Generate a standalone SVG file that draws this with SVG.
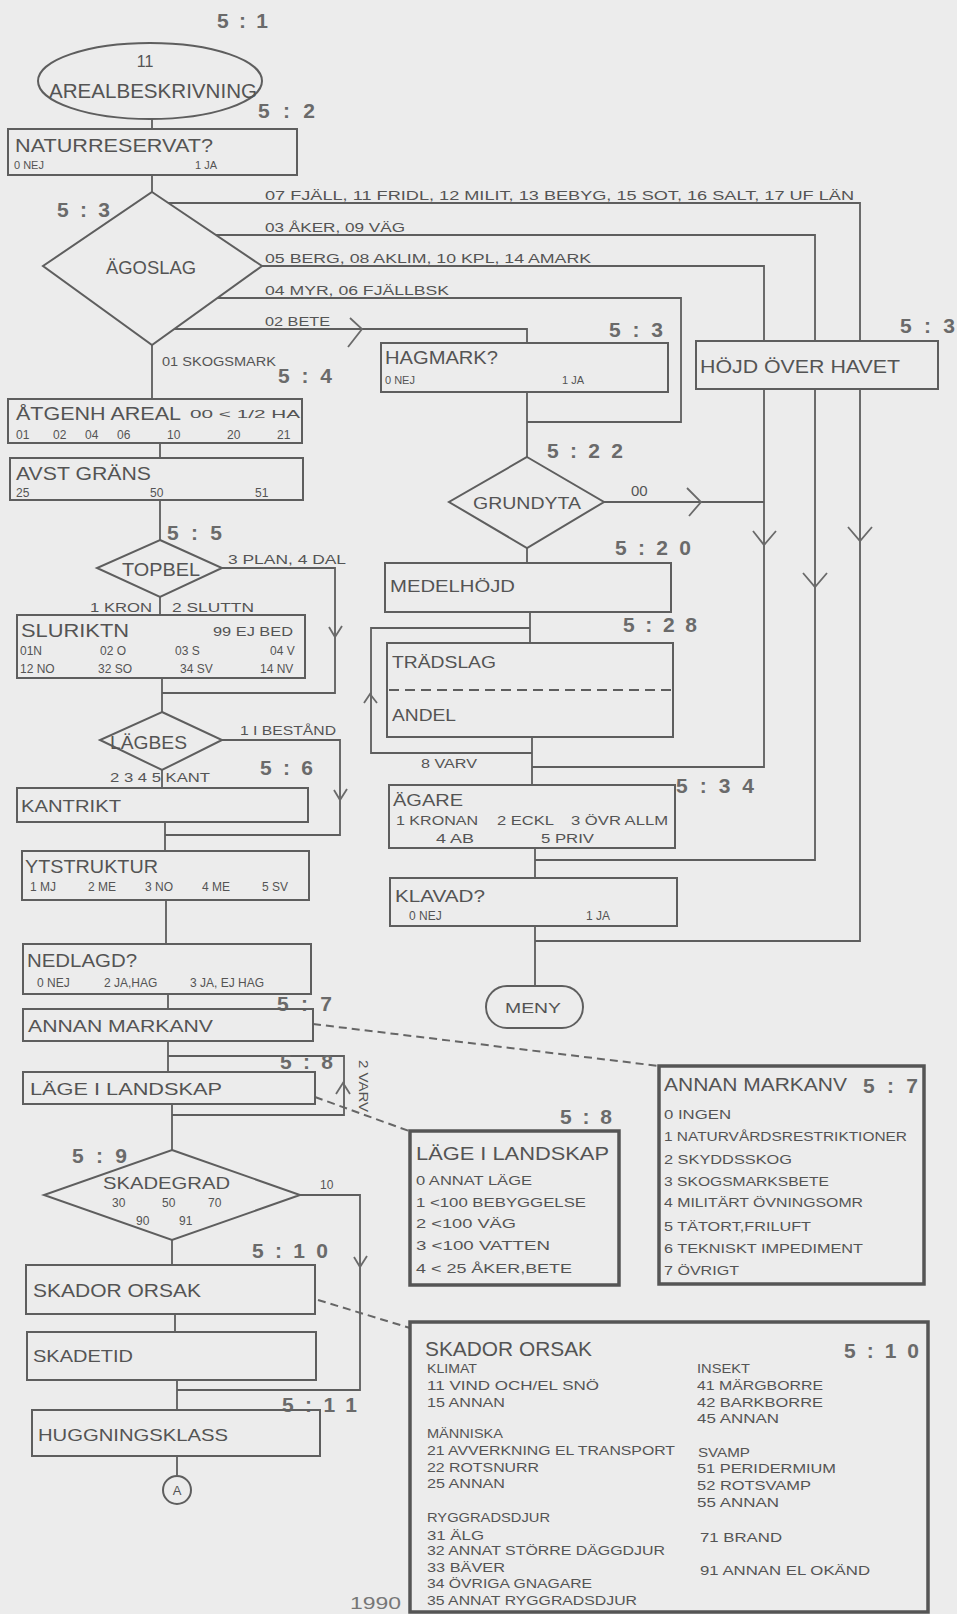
<svg xmlns="http://www.w3.org/2000/svg" width="957" height="1614" viewBox="0 0 957 1614">
<style>
.bx{fill:none;stroke:#5e5e5e;stroke-width:2}
.ln{fill:none;stroke:#5e5e5e;stroke-width:1.8}
.ch{fill:none;stroke:#6a6a6a;stroke-width:1.8}
.ds{fill:none;stroke:#666;stroke-width:2;stroke-dasharray:8 5}
.ib{fill:none;stroke:#555;stroke-width:3.5}
.t{font-family:"Liberation Sans",Arial,sans-serif;fill:#545454}
.h{font-size:19px}
.s{font-size:11px}
.m{font-size:12px}
.lab{font-family:"Liberation Sans",Arial,sans-serif;font-size:21px;font-weight:bold;fill:#6a6a6a}
</style>
<rect x="0" y="0" width="957" height="1614" fill="#ececec"/>

<g id="connectors">
<path class="ln" d="M152,119 V129"/>
<path class="ln" d="M152,175 V192"/>
<path class="ln" d="M168,203 H860 V341"/>
<path class="ln" d="M216,235 H815 V341"/>
<path class="ln" d="M262,266 H764 V341"/>
<path class="ln" d="M217,298 H681 V422 H527"/>
<path class="ln" d="M174,329 H527 V343"/>
<path class="ch" d="M350,318 L362,329 L348,347"/>
<path class="ln" d="M152,345 V399"/>
<path class="ln" d="M160,443 V458"/>
<path class="ln" d="M160,500 V540"/>
<path class="ln" d="M222,568 H335 V693 H162"/>
<path class="ch" d="M329,627 L335,637 L342,626"/>
<path class="ln" d="M160,597 V615"/>
<path class="ln" d="M162,678 V712"/>
<path class="ln" d="M222,740 H340 V835 H165"/>
<path class="ch" d="M334,790 L340,800 L347,789"/>
<path class="ln" d="M162,770 V788"/>
<path class="ln" d="M165,822 V851"/>
<path class="ln" d="M166,900 V944"/>
<path class="ln" d="M168,994 V1009"/>
<path class="ln" d="M168,1041 V1072"/>
<path class="ln" d="M168,1056 H344 V1115 H172"/>
<path class="ch" d="M336,1094 L343,1083 L350,1094"/>
<path class="ln" d="M172,1104 V1150"/>
<path class="ln" d="M300,1195 H360 V1390 H177"/>
<path class="ch" d="M354,1257 L360,1267 L367,1256"/>
<path class="ln" d="M172,1240 V1265"/>
<path class="ln" d="M175,1314 V1332"/>
<path class="ln" d="M177,1380 V1410"/>
<path class="ln" d="M177,1456 V1475"/>
<path class="ln" d="M527,392 V457"/>
<path class="ln" d="M604,502 H764"/>
<path class="ch" d="M687,488 L701,502 L689,516"/>
<path class="ln" d="M527,548 V563"/>
<path class="ln" d="M530,612 V643"/>
<path class="ln" d="M530,628 H371 V753 H532"/>
<path class="ch" d="M364,703 L370,694 L377,703"/>
<path class="ln" d="M532,737 V785"/>
<path class="ln" d="M764,389 V767 H532"/>
<path class="ln" d="M815,389 V860 H535"/>
<path class="ln" d="M860,389 V941 H535"/>
<path class="ch" d="M753,531 L764,545 L776,531"/>
<path class="ch" d="M848,527 L860,541 L872,527"/>
<path class="ch" d="M803,573 L815,587 L827,573"/>
<path class="ln" d="M535,848 V878"/>
<path class="ln" d="M535,926 V986"/>
<path class="ds" d="M313,1024 L659,1066"/>
<path class="ds" d="M315,1097 L409,1131"/>
<path class="ds" d="M318,1300 L410,1328"/>
</g>

<g id="branch-labels" class="t s">
<text x="265" y="200" textLength="589" lengthAdjust="spacingAndGlyphs" style="font-size:12px">07 FJÄLL, 11 FRIDL, 12 MILIT, 13 BEBYG, 15 SOT, 16 SALT, 17 UF LÄN</text>
<text x="265" y="232" textLength="140" lengthAdjust="spacingAndGlyphs" style="font-size:12px">03 ÅKER, 09 VÄG</text>
<text x="265" y="263" textLength="326" lengthAdjust="spacingAndGlyphs" style="font-size:12px">05 BERG, 08 AKLIM, 10 KPL, 14 AMARK</text>
<text x="265" y="295" textLength="184" lengthAdjust="spacingAndGlyphs" style="font-size:12px">04 MYR, 06 FJÄLLBSK</text>
<text x="265" y="326" textLength="65" lengthAdjust="spacingAndGlyphs" style="font-size:12px">02 BETE</text>
<text x="162" y="366" textLength="114" lengthAdjust="spacingAndGlyphs" style="font-size:12px">01 SKOGSMARK</text>
<text x="228" y="564" textLength="118" lengthAdjust="spacingAndGlyphs" style="font-size:12px">3 PLAN, 4 DAL</text>
<text x="90" y="612" textLength="62" lengthAdjust="spacingAndGlyphs" style="font-size:12px">1 KRON</text>
<text x="172" y="612" textLength="82" lengthAdjust="spacingAndGlyphs" style="font-size:12px">2 SLUTTN</text>
<text x="240" y="735" textLength="96" lengthAdjust="spacingAndGlyphs" style="font-size:12px">1 I BESTÅND</text>
<text x="110" y="782" textLength="100" lengthAdjust="spacingAndGlyphs" style="font-size:12px">2 3 4 5 KANT</text>
<text transform="translate(359,1060) rotate(90)" textLength="52" lengthAdjust="spacingAndGlyphs" style="font-size:12px">2 VARV</text>
<text x="320" y="1189" style="font-size:12px">10</text>
<text x="631" y="496" style="font-size:15px">00</text>
<text x="421" y="768" textLength="56" lengthAdjust="spacingAndGlyphs" style="font-size:12px">8 VARV</text>
</g>

<g id="step-labels" class="lab">
<text x="217" y="28" textLength="51">5:1</text>
<text x="258" y="118" textLength="57">5:2</text>
<text x="57" y="217" textLength="53">5:3</text>
<text x="278" y="383" textLength="54">5:4</text>
<text x="167" y="540" textLength="55">5:5</text>
<text x="260" y="775" textLength="53">5:6</text>
<text x="277" y="1011" textLength="55">5:7</text>
<text x="280" y="1069" textLength="53">5:8</text>
<text x="72" y="1163" textLength="55">5:9</text>
<text x="252" y="1258" textLength="76">5:10</text>
<text x="282" y="1412" textLength="75">5:11</text>
<text x="609" y="337" textLength="54">5:3</text>
<text x="900" y="333" textLength="55">5:3</text>
<text x="547" y="458" textLength="76">5:22</text>
<text x="615" y="555" textLength="76">5:20</text>
<text x="623" y="632" textLength="74">5:28</text>
<text x="676" y="793" textLength="78">5:34</text>
</g>

<g id="n-start">
<ellipse class="bx" cx="150" cy="81" rx="112" ry="38"/>
<text class="t" x="145" y="67" text-anchor="middle" style="font-size:16px">11</text>
<text class="t" x="49" y="98" textLength="208" lengthAdjust="spacingAndGlyphs" style="font-size:21px">AREALBESKRIVNING</text>
</g>

<g id="n-naturreservat">
<rect class="bx" x="8" y="129" width="289" height="46"/>
<text class="t h" x="15" y="152" textLength="198" lengthAdjust="spacingAndGlyphs">NATURRESERVAT?</text>
<text class="t s" x="14" y="169">0 NEJ</text>
<text class="t s" x="195" y="169">1 JA</text>
</g>

<g id="n-agoslag">
<polygon class="bx" points="152,192 262,266 152,345 43,266"/>
<text class="t h" x="106" y="274" textLength="90" lengthAdjust="spacingAndGlyphs">ÄGOSLAG</text>
</g>

<g id="n-atgenh">
<rect class="bx" x="8" y="399" width="294" height="44"/>
<text class="t h" x="16" y="420" textLength="165" lengthAdjust="spacingAndGlyphs">ÅTGENH AREAL</text>
<text class="t s" x="190" y="418" textLength="110" lengthAdjust="spacingAndGlyphs">00 &lt; 1/2 HA</text>
<text class="t m" y="439"><tspan x="16">01</tspan><tspan x="53">02</tspan><tspan x="85">04</tspan><tspan x="117">06</tspan><tspan x="167">10</tspan><tspan x="227">20</tspan><tspan x="277">21</tspan></text>
</g>

<g id="n-avst">
<rect class="bx" x="10" y="458" width="293" height="42"/>
<text class="t h" x="16" y="480" textLength="135" lengthAdjust="spacingAndGlyphs">AVST GRÄNS</text>
<text class="t m" y="497"><tspan x="16">25</tspan><tspan x="150">50</tspan><tspan x="255">51</tspan></text>
</g>

<g id="n-topbel">
<polygon class="bx" points="160,540 222,568 160,597 97,568"/>
<text class="t" x="122" y="576" textLength="78" lengthAdjust="spacingAndGlyphs" style="font-size:18px">TOPBEL</text>
</g>

<g id="n-sluriktn">
<rect class="bx" x="17" y="615" width="288" height="63"/>
<text class="t h" x="21" y="637" textLength="108" lengthAdjust="spacingAndGlyphs">SLURIKTN</text>
<text class="t m" x="213" y="636" textLength="80" lengthAdjust="spacingAndGlyphs">99 EJ BED</text>
<text class="t m" y="655"><tspan x="20">01N</tspan><tspan x="100">02 O</tspan><tspan x="175">03 S</tspan><tspan x="270">04 V</tspan></text>
<text class="t m" y="673"><tspan x="20">12 NO</tspan><tspan x="98">32 SO</tspan><tspan x="180">34 SV</tspan><tspan x="260">14 NV</tspan></text>
</g>

<g id="n-lagbes">
<polygon class="bx" points="162,712 222,740 162,770 100,740"/>
<text class="t" x="110" y="749" textLength="77" lengthAdjust="spacingAndGlyphs" style="font-size:18px">LÄGBES</text>
</g>

<g id="n-kantrikt">
<rect class="bx" x="17" y="788" width="291" height="34"/>
<text class="t" x="21" y="812" textLength="100" lengthAdjust="spacingAndGlyphs" style="font-size:17px">KANTRIKT</text>
</g>

<g id="n-ytstruktur">
<rect class="bx" x="22" y="851" width="287" height="49"/>
<text class="t h" x="25" y="873" textLength="133" lengthAdjust="spacingAndGlyphs">YTSTRUKTUR</text>
<text class="t m" y="891"><tspan x="30">1 MJ</tspan><tspan x="88">2 ME</tspan><tspan x="145">3 NO</tspan><tspan x="202">4 ME</tspan><tspan x="262">5 SV</tspan></text>
</g>

<g id="n-nedlagd">
<rect class="bx" x="23" y="944" width="288" height="50"/>
<text class="t h" x="27" y="967" textLength="110" lengthAdjust="spacingAndGlyphs">NEDLAGD?</text>
<text class="t m" y="987"><tspan x="37">0 NEJ</tspan><tspan x="104">2 JA,HAG</tspan><tspan x="190">3 JA, EJ HAG</tspan></text>
</g>

<g id="n-annan">
<rect class="bx" x="23" y="1009" width="290" height="32"/>
<text class="t" x="28" y="1032" textLength="185" lengthAdjust="spacingAndGlyphs" style="font-size:17px">ANNAN MARKANV</text>
</g>

<g id="n-lage">
<rect class="bx" x="23" y="1072" width="292" height="32"/>
<text class="t" x="30" y="1095" textLength="192" lengthAdjust="spacingAndGlyphs" style="font-size:17px">LÄGE I LANDSKAP</text>
</g>

<g id="n-skadegrad">
<polygon class="bx" points="172,1150 300,1195 172,1240 44,1195"/>
<text class="t" x="103" y="1189" textLength="127" lengthAdjust="spacingAndGlyphs" style="font-size:17px">SKADEGRAD</text>
<text class="t m" y="1207"><tspan x="112">30</tspan><tspan x="162">50</tspan><tspan x="208">70</tspan></text>
<text class="t m" y="1225"><tspan x="136">90</tspan><tspan x="179">91</tspan></text>
</g>

<g id="n-skador">
<rect class="bx" x="26" y="1265" width="289" height="49"/>
<text class="t h" x="33" y="1297" textLength="168" lengthAdjust="spacingAndGlyphs">SKADOR ORSAK</text>
</g>

<g id="n-skadetid">
<rect class="bx" x="27" y="1332" width="289" height="48"/>
<text class="t" x="33" y="1362" textLength="100" lengthAdjust="spacingAndGlyphs" style="font-size:17px">SKADETID</text>
</g>

<g id="n-hugg">
<rect class="bx" x="32" y="1410" width="288" height="46"/>
<text class="t" x="38" y="1441" textLength="190" lengthAdjust="spacingAndGlyphs" style="font-size:17px">HUGGNINGSKLASS</text>
</g>

<g id="n-a">
<circle class="bx" cx="177" cy="1490" r="14"/>
<text class="t" x="177" y="1495" text-anchor="middle" style="font-size:13px">A</text>
</g>

<g id="n-hagmark">
<rect class="bx" x="381" y="343" width="287" height="49"/>
<text class="t h" x="385" y="364" textLength="113" lengthAdjust="spacingAndGlyphs">HAGMARK?</text>
<text class="t s" x="385" y="384">0 NEJ</text>
<text class="t s" x="562" y="384">1 JA</text>
</g>

<g id="n-hojd">
<rect class="bx" x="696" y="341" width="242" height="48"/>
<text class="t h" x="700" y="373" textLength="200" lengthAdjust="spacingAndGlyphs">HÖJD ÖVER HAVET</text>
</g>

<g id="n-grundyta">
<polygon class="bx" points="527,457 604,502 527,548 449,502"/>
<text class="t" x="473" y="509" textLength="108" lengthAdjust="spacingAndGlyphs" style="font-size:17px">GRUNDYTA</text>
</g>

<g id="n-medelhojd">
<rect class="bx" x="385" y="563" width="286" height="49"/>
<text class="t" x="390" y="592" textLength="125" lengthAdjust="spacingAndGlyphs" style="font-size:17px">MEDELHÖJD</text>
</g>

<g id="n-tradslag">
<rect class="bx" x="387" y="643" width="286" height="94"/>
<path d="M389,690 H671" fill="none" stroke="#5e5e5e" stroke-width="1.8" stroke-dasharray="10 6"/>
<text class="t" x="392" y="668" textLength="104" lengthAdjust="spacingAndGlyphs" style="font-size:17px">TRÄDSLAG</text>
<text class="t" x="392" y="721" textLength="64" lengthAdjust="spacingAndGlyphs" style="font-size:17px">ANDEL</text>
</g>

<g id="n-agare">
<rect class="bx" x="389" y="785" width="286" height="63"/>
<text class="t" x="393" y="806" textLength="70" lengthAdjust="spacingAndGlyphs" style="font-size:17px">ÄGARE</text>
<text class="t m" x="396" y="825" textLength="82" lengthAdjust="spacingAndGlyphs">1 KRONAN</text>
<text class="t m" x="497" y="825" textLength="57" lengthAdjust="spacingAndGlyphs">2 ECKL</text>
<text class="t m" x="571" y="825" textLength="97" lengthAdjust="spacingAndGlyphs">3 ÖVR ALLM</text>
<text class="t m" x="436" y="843" textLength="38" lengthAdjust="spacingAndGlyphs">4 AB</text>
<text class="t m" x="541" y="843" textLength="53" lengthAdjust="spacingAndGlyphs">5 PRIV</text>
</g>

<g id="n-klavad">
<rect class="bx" x="390" y="878" width="287" height="48"/>
<text class="t" x="395" y="902" textLength="90" lengthAdjust="spacingAndGlyphs" style="font-size:17px">KLAVAD?</text>
<text class="t m" x="409" y="920">0 NEJ</text>
<text class="t m" x="586" y="920">1 JA</text>
</g>

<g id="n-meny">
<rect class="bx" x="486" y="986" width="97" height="42" rx="21"/>
<text class="t" x="505" y="1013" textLength="56" lengthAdjust="spacingAndGlyphs" style="font-size:15px">MENY</text>
</g>

<g id="info-annan">
<rect class="ib" x="659" y="1066" width="265" height="218"/>
<text class="t h" x="664" y="1091" textLength="183" lengthAdjust="spacingAndGlyphs">ANNAN MARKANV</text>
<text class="lab" x="863" y="1093" textLength="55">5:7</text>
<g class="t" style="font-size:13px">
<text x="664" y="1119" textLength="67" lengthAdjust="spacingAndGlyphs">0 INGEN</text>
<text x="664" y="1141" textLength="243" lengthAdjust="spacingAndGlyphs">1 NATURVÅRDSRESTRIKTIONER</text>
<text x="664" y="1164" textLength="128" lengthAdjust="spacingAndGlyphs">2 SKYDDSSKOG</text>
<text x="664" y="1186" textLength="165" lengthAdjust="spacingAndGlyphs">3 SKOGSMARKSBETE</text>
<text x="664" y="1207" textLength="199" lengthAdjust="spacingAndGlyphs">4 MILITÄRT ÖVNINGSOMR</text>
<text x="664" y="1231" textLength="147" lengthAdjust="spacingAndGlyphs">5 TÄTORT,FRILUFT</text>
<text x="664" y="1253" textLength="199" lengthAdjust="spacingAndGlyphs">6 TEKNISKT IMPEDIMENT</text>
<text x="664" y="1275" textLength="75" lengthAdjust="spacingAndGlyphs">7 ÖVRIGT</text>
</g>
</g>

<g id="info-lage">
<rect class="ib" x="410" y="1131" width="209" height="154"/>
<text class="t h" x="416" y="1160" textLength="193" lengthAdjust="spacingAndGlyphs">LÄGE I LANDSKAP</text>
<text class="lab" x="560" y="1124" textLength="52">5:8</text>
<g class="t" style="font-size:13px">
<text x="416" y="1185" textLength="116" lengthAdjust="spacingAndGlyphs">0 ANNAT LÄGE</text>
<text x="416" y="1207" textLength="170" lengthAdjust="spacingAndGlyphs">1 &lt;100 BEBYGGELSE</text>
<text x="416" y="1228" textLength="100" lengthAdjust="spacingAndGlyphs">2 &lt;100 VÄG</text>
<text x="416" y="1250" textLength="134" lengthAdjust="spacingAndGlyphs">3 &lt;100 VATTEN</text>
<text x="416" y="1273" textLength="156" lengthAdjust="spacingAndGlyphs">4 &lt; 25 ÅKER,BETE</text>
</g>
</g>

<g id="info-skador">
<rect class="ib" x="410" y="1322" width="518" height="290"/>
<text class="t" x="425" y="1356" textLength="167" lengthAdjust="spacingAndGlyphs" style="font-size:20px">SKADOR ORSAK</text>
<text class="lab" x="844" y="1358" textLength="75">5:10</text>
<g class="t" style="font-size:13px">
<text x="427" y="1373" textLength="50" lengthAdjust="spacingAndGlyphs">KLIMAT</text>
<text x="427" y="1390" textLength="172" lengthAdjust="spacingAndGlyphs">11 VIND OCH/EL SNÖ</text>
<text x="427" y="1407" textLength="78" lengthAdjust="spacingAndGlyphs">15 ANNAN</text>
<text x="427" y="1438" textLength="76" lengthAdjust="spacingAndGlyphs">MÄNNISKA</text>
<text x="427" y="1455" textLength="248" lengthAdjust="spacingAndGlyphs">21 AVVERKNING EL TRANSPORT</text>
<text x="427" y="1472" textLength="112" lengthAdjust="spacingAndGlyphs">22 ROTSNURR</text>
<text x="427" y="1488" textLength="78" lengthAdjust="spacingAndGlyphs">25 ANNAN</text>
<text x="427" y="1522" textLength="123" lengthAdjust="spacingAndGlyphs">RYGGRADSDJUR</text>
<text x="427" y="1540" textLength="57" lengthAdjust="spacingAndGlyphs">31 ÄLG</text>
<text x="427" y="1555" textLength="238" lengthAdjust="spacingAndGlyphs">32 ANNAT STÖRRE DÄGGDJUR</text>
<text x="427" y="1572" textLength="78" lengthAdjust="spacingAndGlyphs">33 BÄVER</text>
<text x="427" y="1588" textLength="165" lengthAdjust="spacingAndGlyphs">34 ÖVRIGA GNAGARE</text>
<text x="427" y="1605" textLength="210" lengthAdjust="spacingAndGlyphs">35 ANNAT RYGGRADSDJUR</text>
<text x="697" y="1373" textLength="53" lengthAdjust="spacingAndGlyphs">INSEKT</text>
<text x="697" y="1390" textLength="126" lengthAdjust="spacingAndGlyphs">41 MÄRGBORRE</text>
<text x="697" y="1407" textLength="126" lengthAdjust="spacingAndGlyphs">42 BARKBORRE</text>
<text x="697" y="1423" textLength="82" lengthAdjust="spacingAndGlyphs">45 ANNAN</text>
<text x="698" y="1457" textLength="52" lengthAdjust="spacingAndGlyphs">SVAMP</text>
<text x="697" y="1473" textLength="139" lengthAdjust="spacingAndGlyphs">51 PERIDERMIUM</text>
<text x="697" y="1490" textLength="114" lengthAdjust="spacingAndGlyphs">52 ROTSVAMP</text>
<text x="697" y="1507" textLength="82" lengthAdjust="spacingAndGlyphs">55 ANNAN</text>
<text x="700" y="1542" textLength="82" lengthAdjust="spacingAndGlyphs">71 BRAND</text>
<text x="700" y="1575" textLength="170" lengthAdjust="spacingAndGlyphs">91 ANNAN EL OKÄND</text>
</g>
</g>

<text class="t" x="350" y="1609" textLength="51" lengthAdjust="spacingAndGlyphs" style="font-size:17px;fill:#777">1990</text>
</svg>
